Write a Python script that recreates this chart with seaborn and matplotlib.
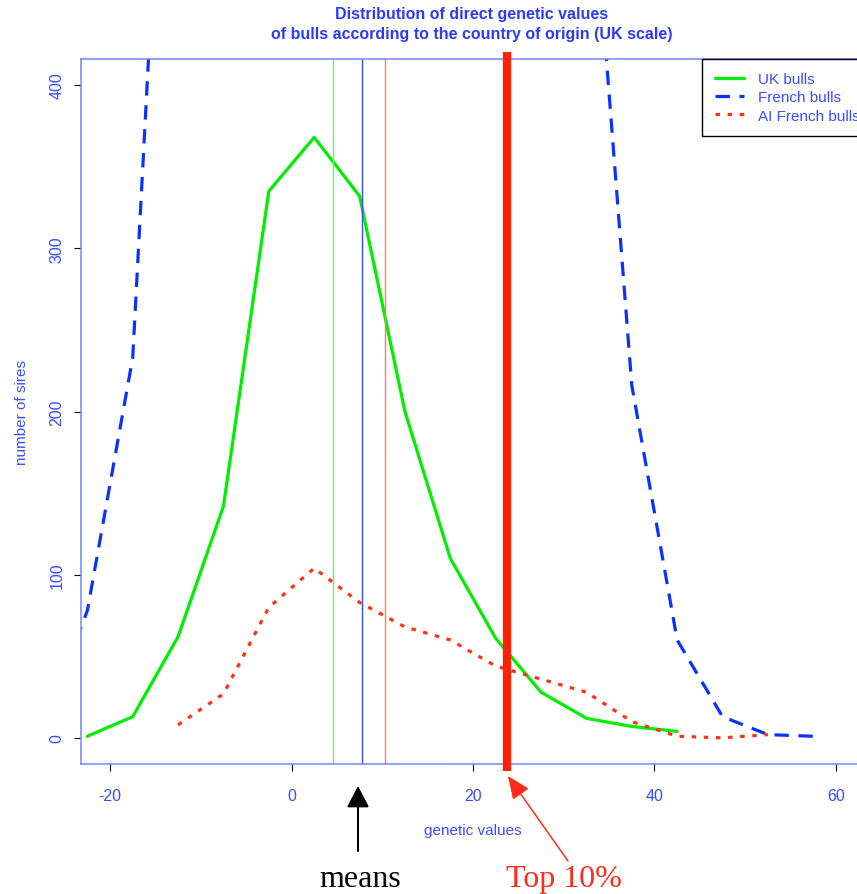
import numpy as np
import pandas as pd
import matplotlib
matplotlib.use('Agg')
import matplotlib.pyplot as plt
import seaborn as sns

# class midpoints of genetic values
uk_x = [-22.5, -17.5, -12.5, -7.5, -2.5, 2.5, 7.5, 12.5, 17.5, 22.5, 27.5, 32.5, 37.5, 42.5]
uk_sires = [1, 13, 62, 142, 335, 368, 332, 200, 110, 61, 28, 12, 7, 4]

# french counts above 416 are off the chart, the middle ones are only guesses
fr_x = [-27.5, -22.5, -17.5, -12.5, -7.5, -2.5, 2.5, 7.5, 12.5, 17.5, 22.5, 27.5,
        32.5, 37.5, 42.5, 47.5, 52.5, 57.5]
fr_sires = [5, 78, 233, 760, 1300, 1700, 1900, 1850, 1600, 1300, 1000, 800,
            573, 216, 60, 13, 2, 1]

ai_x = [-12.5, -7.5, -2.5, 2.5, 7.5, 12.5, 17.5, 22.5, 27.5, 32.5, 37.5, 42.5, 47.5, 52.5]
ai_sires = [8, 27, 80, 104, 83, 68, 60, 44, 36, 28, 10, 1, 0, 2]

labels = ['UK bulls', 'French bulls', 'AI French bulls']
means = [4.6, 7.8, 10.3]
top10 = 23.8

green = '#00ee00'
blue = '#0a32ff'
red = '#ff3311'
txt_blue = '#3a4cff'

sns.set_style('white')
plt.rcParams['font.family'] = ['Liberation Sans', 'DejaVu Sans']
plt.rcParams['axes.unicode_minus'] = False

fig = plt.figure(figsize=(8.57, 8.95), dpi=100)
ax = fig.add_axes([81 / 857, 1 - 765 / 895, 784 / 857, 705 / 895])

# the three distributions
sns.lineplot(x=uk_x, y=uk_sires, color=green, lw=2.3, ax=ax)
sns.lineplot(x=fr_x, y=fr_sires, color=blue, lw=2.3, ax=ax)
sns.lineplot(x=ai_x, y=ai_sires, color=red, lw=2.3, ax=ax)
l_uk, l_fr, l_ai = ax.lines[:3]
l_fr.set_dashes([4.5, 3.0])
l_ai.set_dashes([1.4, 2.4])

# means of each group
for m, c in zip(means, ['#66f066', '#3050ff', '#ff7a66']):
    ax.axvline(m, color=c, lw=1.0)

# top 10% threshold, drawn a bit past the frame
ax.plot([top10, top10], [-20, 420.5], color='#ff2200', lw=6,
        solid_capstyle='butt', clip_on=False, zorder=5)

ax.set_xlim(-23.2, 63.2)
ax.set_ylim(-16, 416)
ax.set_xticks([-20, 0, 20, 40, 60])
ax.set_yticks([0, 100, 200, 300, 400])

ax.tick_params(axis='both', direction='out', length=5, width=0.8, color='black',
               labelcolor=txt_blue, labelsize=11.5, bottom=True, left=True)
ax.tick_params(axis='x', pad=12.5)
ax.tick_params(axis='y', pad=7)
for t in ax.get_yticklabels():
    t.set_rotation(90)
    t.set_va('center')

for s in ax.spines.values():
    s.set_color('#7088ff')
    s.set_linewidth(1.1)

ax.set_xlabel('genetic values', color=txt_blue, fontsize=11, va='center')
ax.xaxis.set_label_coords(0.5, -0.0936)
ax.set_ylabel('number of sires', color=txt_blue, fontsize=11, va='center')
ax.yaxis.set_label_coords(-0.075, 0.5)

leg = ax.legend([l_uk, l_fr, l_ai], labels, loc='upper left',
                bbox_to_anchor=(0.792, 1.0), borderaxespad=0, fontsize=11,
                frameon=True, fancybox=False, framealpha=1, edgecolor='black',
                handlelength=1.9, handletextpad=0.9, borderpad=0.85,
                labelspacing=0.28)
leg.get_frame().set_linewidth(1.0)
for t in leg.get_texts():
    t.set_color(txt_blue)

# title, two lines
fig.text(472 / 857, 1 - 15 / 895, 'Distribution of direct genetic values',
         ha='center', va='center', fontsize=11.5, fontweight='bold', color='#2a3cf5')
fig.text(472 / 857, 1 - 34 / 895, 'of bulls according to the country of origin (UK scale)',
         ha='center', va='center', fontsize=11.5, fontweight='bold', color='#2a3cf5')

# annotations under the axis
serif = ['Liberation Serif', 'DejaVu Serif']
fig.text(360 / 857, 8 / 895, 'means', ha='center', va='baseline',
         fontsize=23, family=serif, color='black')
fig.text(564 / 857, 8 / 895, 'Top 10%', ha='center', va='baseline',
         fontsize=23, family=serif, color='#ff2a1a')

ax.annotate('', xy=(358, 895 - 787), xytext=(358, 895 - 852),
            xycoords='figure pixels', textcoords='figure pixels',
            arrowprops=dict(arrowstyle='-|>,head_length=1.3,head_width=0.68',
                            color='black', lw=1.5, shrinkA=0, shrinkB=0),
            annotation_clip=False)
ax.annotate('', xy=(508, 895 - 777), xytext=(568, 895 - 862),
            xycoords='figure pixels', textcoords='figure pixels',
            arrowprops=dict(arrowstyle='-|>,head_length=1.4,head_width=0.6',
                            color='#ff2a1a', lw=1.1, shrinkA=0, shrinkB=0),
            annotation_clip=False)

fig.savefig('out.png', dpi=100)
